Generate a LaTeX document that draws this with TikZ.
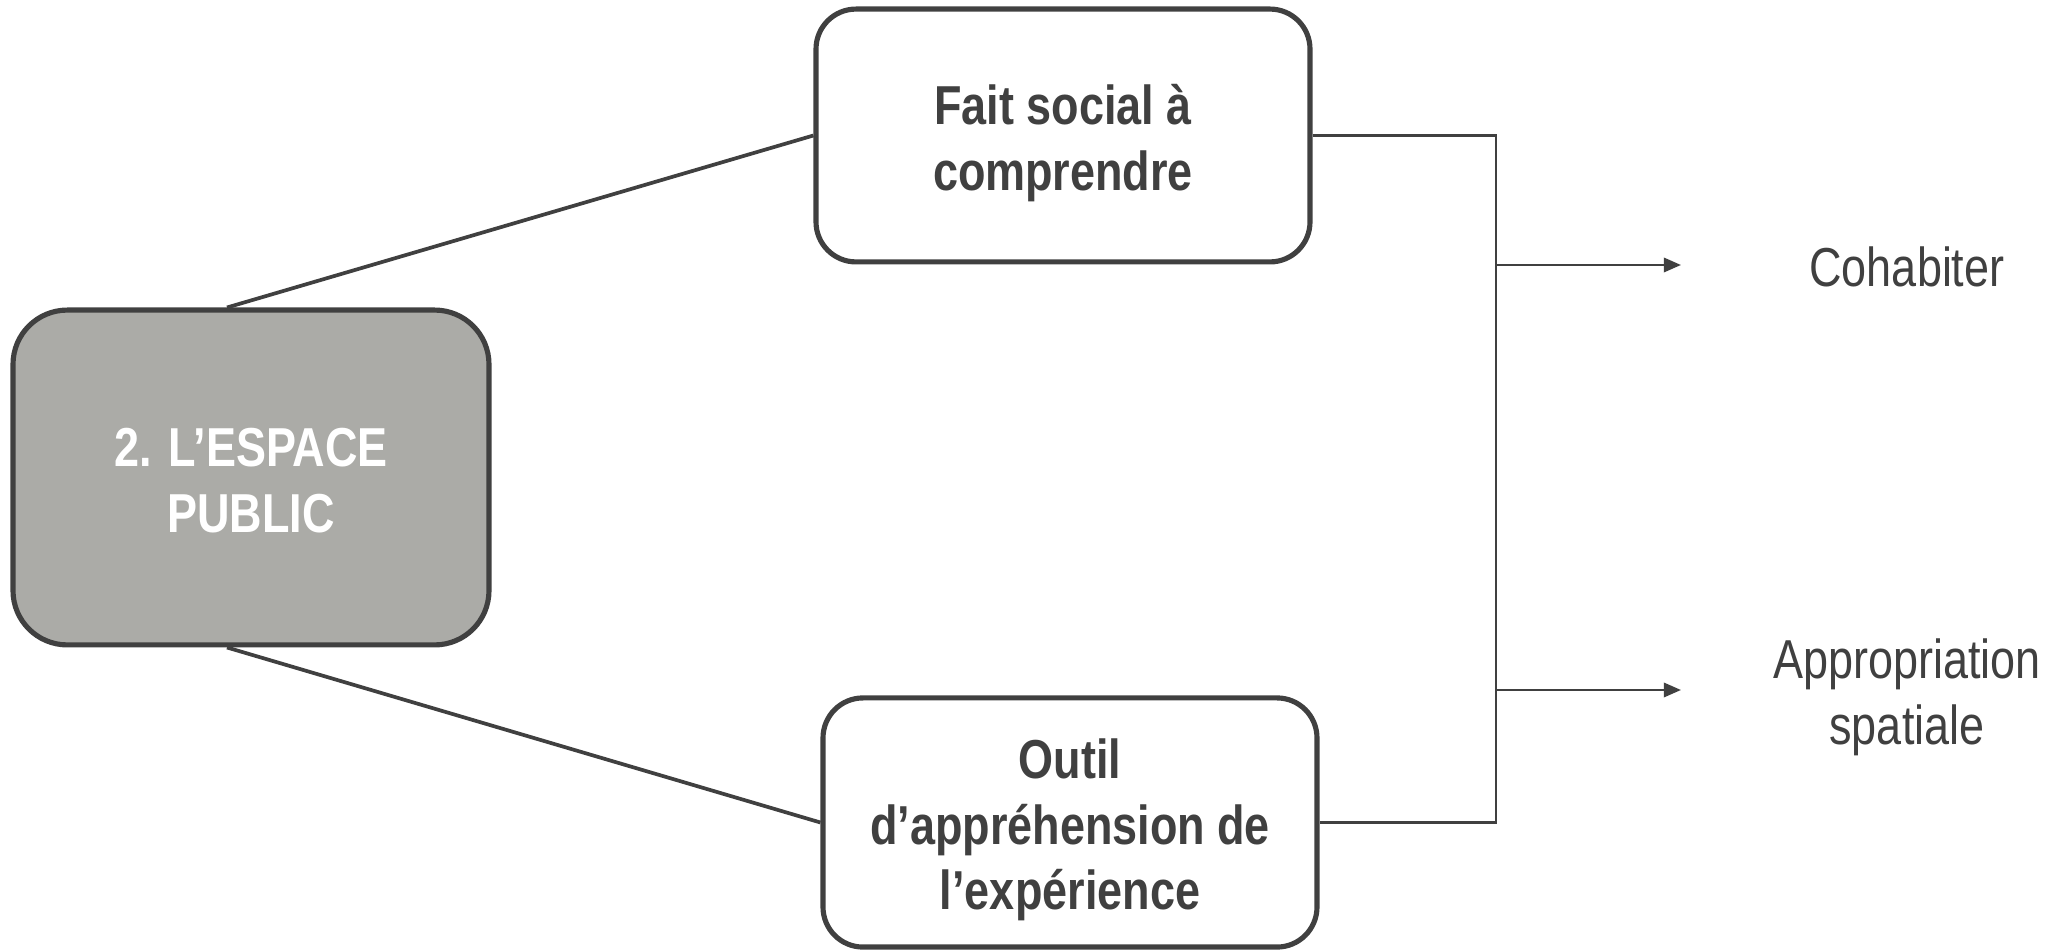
\documentclass[tikz,border=0pt]{standalone}
\usepackage{fontspec}
\setmainfont[FakeStretch=0.82]{Liberation Sans}
\usetikzlibrary{arrows.meta}
\definecolor{dk}{HTML}{404040}
\definecolor{boxgray}{HTML}{ABABA7}
\begin{document}
\begin{tikzpicture}[x=0.35pt,y=-0.35pt,
  box/.style={draw=dk,line width=1.8pt,rounded corners=14pt,inner sep=0pt},
  mainbox/.style={box,fill=boxgray,rounded corners=19pt},
  boxtext/.style={align=center,font=\fontsize{19.2pt}{23pt}\selectfont\bfseries,text=dk,inner sep=0pt},
  maintext/.style={boxtext,text=white},
  outlabel/.style={align=center,font=\fontsize{19.2pt}{23pt}\selectfont,text=dk},
  link/.style={draw=dk,line width=1.3pt},
  thinline/.style={draw=dk,line width=0.9pt},
  arr/.style={thinline,-{Triangle[length=6pt,width=5pt]}}]
\useasboundingbox (0,0) rectangle (2054,950);
\node[mainbox,minimum width=166.6pt,minimum height=117.2pt] (L) at (251,477.5) {};
\node[box,minimum width=172.9pt,minimum height=88.5pt] (T) at (1063,135.5) {};
\node[box,minimum width=172.9pt,minimum height=87.2pt] (B) at (1070,822.5) {};
\node[maintext] (Lt) at ([yshift=-1pt]L.center) {2. L’ESPACE\\PUBLIC};
\node[boxtext] (Tt) at ([yshift=-2.6pt]T.center) {Fait social à\\comprendre};
\node[boxtext] (Bt) at ([yshift=-2.6pt]B.center) {Outil\\d’appréhension de\\l’expérience};
\node[outlabel] (C) at (1907,267) {Cohabiter};
\node[outlabel] (A) at (1907,697) {Appropriation\\spatiale};
\coordinate (vx) at (1496,0);
\coordinate (e1) at (1681,265);
\coordinate (e2) at (1681,690);
\draw[link] ([xshift=-8.4pt]L.north) -- (T.west);
\draw[link] ([xshift=-8.4pt]L.south) -- (B.west);
\draw[thinline] (T.east) -| (vx |- B.east) -- (B.east);
\draw[arr] (vx |- e1) -- (e1);
\draw[arr] (vx |- e2) -- (e2);
\end{tikzpicture}
\end{document}
